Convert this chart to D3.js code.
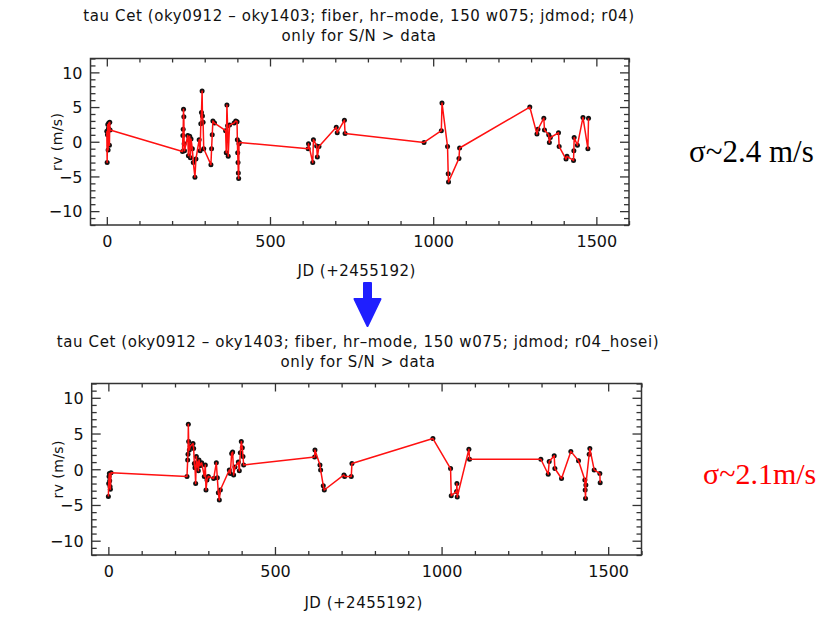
<!DOCTYPE html>
<html><head><meta charset="utf-8">
<script src="https://cdn.jsdelivr.net/npm/d3@7"></script>
<style>
html,body{margin:0;padding:0;background:#fff;}
svg{display:block;}
</style></head>
<body>
<svg id="chart" width="821" height="617"></svg>
<script>
// ---------------- data ----------------
const titleTop1 = "tau Cet (oky0912 \u2013 oky1403; fiber, hr\u2013mode, 150 w075; jdmod; r04)";
const titleBot1 = "tau Cet (oky0912 \u2013 oky1403; fiber, hr\u2013mode, 150 w075; jdmod; r04_hosei)";
const title2 = "only for S/N > data";
const xLabel = "JD (+2455192)";
const yLabel = "rv (m/s)";
const sigmaTop = "\u03c3~2.4 m/s";
const sigmaBot = "\u03c3~2.1m/s";
const xDomain = [-50, 1600];
const yDomain = [-12, 12];
const xMajorTicks = [0, 500, 1000, 1500];
const xMinorTicks = [100,200,300,400,600,700,800,900,1100,1200,1300,1400,1600];
const yMajorTicks = [-10, -5, 0, 5, 10];
const yMinorTicks = [-12,-11,-9,-8,-7,-6,-4,-3,-2,-1,1,2,3,4,6,7,8,9,11,12];

// top panel (r04): JD offsets and RVs, in time order
const jdTop = [0,1,2,3,4,5,6,8,9,10,
  232,233,234,235,236,237,238,248,250,252,254,256,258,262,265,270,273,
  283,286,288,290,292,293,295,297,319,321,323,325,330,
  364,366,368,370,372,376,390,395,399,400,401,402,403,404,405,406,
  617,618,631,633,643,645,650,703,706,728,730,
  972,1025,1027,1044,1046,1047,1079,1081,
  1296,1318,1321,1339,1341,1354,1356,1359,1384,1386,1407,1410,1430,1431,1432,1442,1459,1474,1476];
const rvTop = [1.5,-3.0,1.0,2.5,-1.2,1.9,2.7,-0.5,2.8,1.7,
  -1.4,0.9,1.8,4.7,3.6,-0.3,-1.3,0.9,-2.0,0.6,0.8,-2.3,0.4,-1.0,-3.0,-5.1,-2.5,
  0.3,-1.3,2.6,4.2,7.3,3.7,2.8,-1.0,-3.3,-1.0,1.0,3.0,2.7,
  1.6,-1.6,5.3,2.3,-2.1,2.4,2.7,3.0,2.9,0.3,-1.6,-3.0,-4.5,-5.3,-0.3,-0.1,
  -1.0,-0.3,-3.0,0.3,-0.6,-2.2,-0.7,2.1,1.3,3.1,1.2,
  -0.1,1.6,5.6,-0.7,-4.6,-5.8,-2.4,-0.9,
  5.0,1.1,1.8,3.4,1.7,1.0,-0.1,0.6,1.3,-0.7,-2.5,-2.1,-2.7,-1.3,0.6,-0.5,3.5,-1.0,3.4];

// bottom panel (r04_hosei)
const jdBot = [0,1,2,3,4,5,6,8,
  236,238,239,240,241,243,246,254,256,258,260,262,264,266,268,270,272,275,280,
  288,291,293,296,300,316,324,327,330,333,336,
  363,366,370,373,376,380,390,393,396,399,402,404,406,
  619,620,635,637,645,648,707,709,729,731,
  974,1027,1029,1045,1046,1047,1082,1084,
  1298,1320,1323,1338,1340,1360,1388,1411,1430,1431,1432,1433,1443,1445,1458,1475,1476];
const rvBot = [-3.8,-2.0,-1.0,-0.6,-1.6,-2.4,-2.8,-0.5,
  -1.0,1.3,2.1,6.3,3.9,2.7,3.2,3.6,2.9,0.8,0.2,-2.0,1.8,0.3,1.0,-0.2,1.3,0.5,0.9,
  -1.0,0.6,-2.9,-1.5,-1.0,-1.3,0.9,-1.2,-3.3,-4.3,-2.9,
  -0.1,-0.6,2.2,2.4,-0.8,0.3,1.0,-0.2,2.3,3.9,3.0,1.8,0.6,
  1.7,2.7,0.6,-0.1,-2.3,-2.9,-0.8,-1.0,-1.0,0.8,
  4.3,0.1,-3.7,-3.1,-2.0,-3.9,2.8,1.4,
  1.4,-0.7,1.1,1.9,0.1,-1.3,2.5,1.2,-1.5,-2.9,-4.1,-2.2,2.1,2.9,-0.1,-0.6,-1.9];

// ---------------- drawing ----------------
const svg = d3.select("#chart");
const axisColor = "#333";
const fontAxis = "'DejaVu Sans', sans-serif";

function drawPanel(box, jd, rv, t1, t2, titleX, titleY, xlabY) {
  const x = d3.scaleLinear().domain(xDomain).range([box.left, box.right]);
  const y = d3.scaleLinear().domain(yDomain).range([box.bottom, box.top]);
  const g = svg.append("g");
  const w = box.right - box.left, h = box.bottom - box.top;

  g.append("text").attr("x", titleX).attr("y", titleY).attr("text-anchor","middle")
    .attr("font-family", fontAxis).attr("font-size", 15).attr("letter-spacing", 0.6).attr("fill","#111").text(t1);
  g.append("text").attr("x", titleX).attr("y", titleY + 20).attr("text-anchor","middle")
    .attr("font-family", fontAxis).attr("font-size", 15).attr("letter-spacing", 0.6).attr("fill","#111").text(t2);

  const mk = (axisFn, scale, vals, size, fmt) => axisFn(scale).tickValues(vals).tickSize(size).tickFormat(fmt || "");
  const fmtNum = d => d < 0 ? "\u2212" + Math.abs(d) : String(d);

  function addAxis(gen, transform) {
    const a = g.append("g").attr("transform", transform).call(gen);
    a.select(".domain").remove();
    a.selectAll("line").attr("stroke", axisColor).attr("stroke-width", 1.3);
    a.selectAll("text").attr("font-family", fontAxis).attr("font-size", 16).attr("fill","#111");
    return a;
  }
  const bMaj = addAxis(mk(d3.axisTop, x, xMajorTicks, 8, fmtNum), `translate(0,${box.bottom})`);
  bMaj.selectAll("text").attr("y", 22).attr("dy", 0);
  addAxis(mk(d3.axisTop, x, xMinorTicks, 4), `translate(0,${box.bottom})`);
  addAxis(mk(d3.axisBottom, x, xMajorTicks, 8), `translate(0,${box.top})`);
  addAxis(mk(d3.axisBottom, x, xMinorTicks, 4), `translate(0,${box.top})`);
  const lMaj = addAxis(mk(d3.axisRight, y, yMajorTicks, 9, fmtNum), `translate(${box.left},0)`);
  lMaj.selectAll("text").attr("text-anchor","end").attr("x", -8).attr("dy","0.36em");
  addAxis(mk(d3.axisRight, y, yMinorTicks, 5), `translate(${box.left},0)`);
  addAxis(mk(d3.axisLeft, y, yMajorTicks, 9), `translate(${box.right},0)`);
  addAxis(mk(d3.axisLeft, y, yMinorTicks, 5), `translate(${box.right},0)`);

  g.append("rect").attr("x", box.left).attr("y", box.top).attr("width", w).attr("height", h)
    .attr("fill","none").attr("stroke", axisColor).attr("stroke-width", 1.5);

  const pts = jd.map((d,i) => [d, rv[i]]);
  g.append("g").selectAll("circle").data(pts).join("circle")
    .attr("cx", d => x(d[0])).attr("cy", d => y(d[1])).attr("r", 2.5).attr("fill", "#111");
  g.append("path").datum(pts)
    .attr("d", d3.line().x(d => x(d[0])).y(d => y(d[1])))
    .attr("fill","none").attr("stroke","#ff1010").attr("stroke-width",1.5).attr("stroke-linejoin","round");

  g.append("text").attr("x", (box.left + box.right)/2 - 3).attr("y", xlabY).attr("text-anchor","middle")
    .attr("font-family", fontAxis).attr("font-size", 15).attr("letter-spacing", 0.5).attr("fill","#111").text(xLabel);
  g.append("text").attr("transform", `translate(${box.left - 29},${(box.top+box.bottom)/2}) rotate(-90)`)
    .attr("text-anchor","middle").attr("font-family", fontAxis).attr("font-size", 14).attr("letter-spacing", 0.4)
    .attr("fill","#111").text(yLabel);
}

drawPanel({left: 90.5, right: 629, top: 58.5, bottom: 225}, jdTop, rvTop, titleTop1, title2, 359, 21, 276);
drawPanel({left: 91.7, right: 641.5, top: 383.5, bottom: 555}, jdBot, rvBot, titleBot1, title2, 358, 347, 608);

svg.append("text").attr("x", 689).attr("y", 162).attr("font-family","'Liberation Serif', 'Times New Roman', serif")
  .attr("font-size", 31).attr("fill","#000").text(sigmaTop);
svg.append("text").attr("x", 703).attr("y", 484).attr("font-family","'Liberation Serif', 'Times New Roman', serif")
  .attr("font-size", 30).attr("fill","#ff0000").text(sigmaBot);

const ax = 367.5;
svg.append("path")
  .attr("d", `M${ax-3.5},283 L${ax+3.5},283 L${ax+3.5},299 L${ax+13},299 L${ax},326 L${ax-13},299 L${ax-3.5},299 Z`)
  .attr("fill","#1f1fff").attr("stroke","#1f1fff").attr("stroke-width",2).attr("stroke-linejoin","round");
</script>
</body></html>
